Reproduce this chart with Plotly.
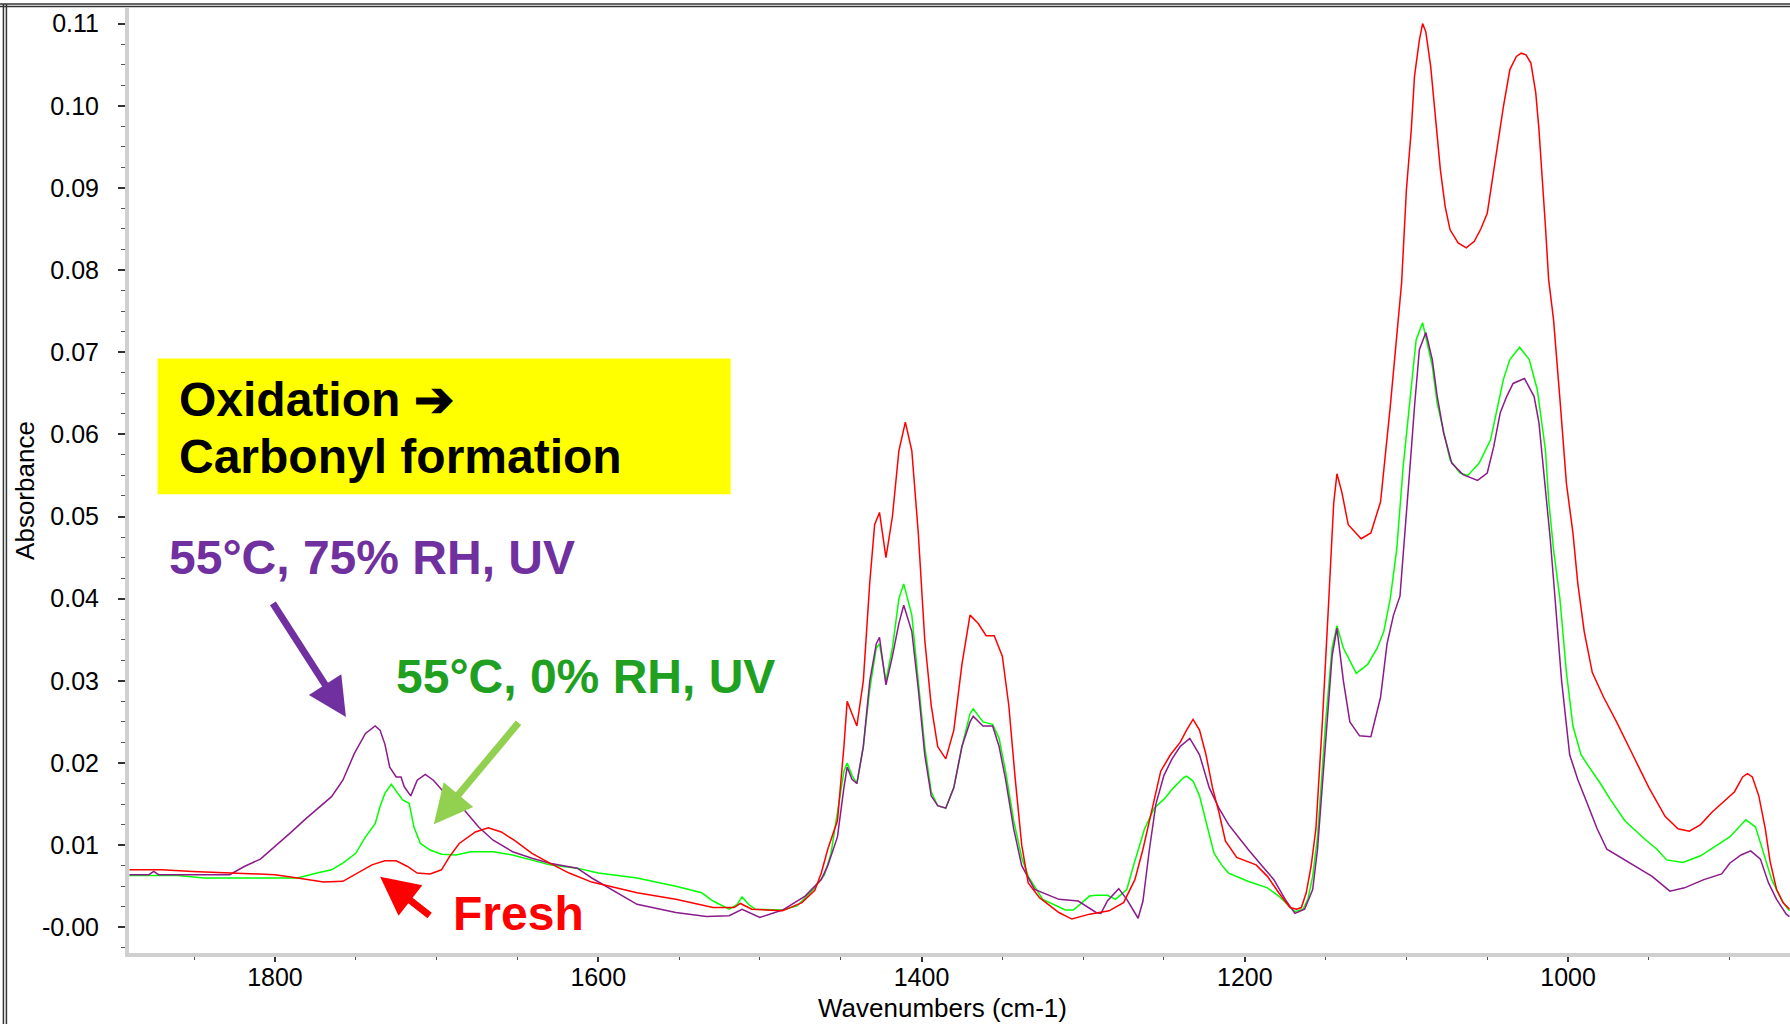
import plotly.graph_objects as go

# FTIR absorbance spectra (wavenumber in cm-1, absorbance)
fresh_wn = [1890, 1870, 1851, 1828, 1800, 1786, 1770, 1758, 1749, 1740, 1732, 1725, 1718, 1712, 1704,
            1697, 1692, 1686, 1676, 1668, 1660, 1652, 1641, 1630, 1618, 1604, 1576, 1552, 1529, 1516,
            1512, 1505, 1486, 1474, 1466, 1462, 1458, 1452, 1448, 1446, 1443, 1440, 1436, 1432, 1429,
            1426, 1422, 1418, 1414, 1410, 1406, 1402, 1398, 1394, 1390, 1385, 1380, 1375, 1370, 1365,
            1360, 1355, 1350, 1346, 1342, 1338, 1334, 1327, 1315, 1307, 1296, 1284, 1275, 1268, 1263,
            1258, 1252, 1246, 1240, 1236, 1232, 1228, 1224, 1220, 1216, 1212, 1205, 1193, 1186, 1179,
            1172, 1168, 1165, 1162, 1159, 1156, 1152, 1148, 1145, 1143, 1140, 1136, 1128, 1122, 1116,
            1110, 1106, 1103, 1100, 1097, 1095, 1092, 1090, 1088, 1085, 1081, 1079, 1076, 1073, 1068,
            1063, 1058, 1054, 1050, 1044, 1040, 1036, 1032, 1029, 1026, 1023, 1020, 1018, 1016, 1014,
            1012, 1009, 1005, 1001, 997, 994, 990, 985, 978, 970, 960, 950, 940, 932, 925,
            918, 911, 904, 897, 892, 889, 886, 882, 878, 875, 871, 867, 863]
fresh_abs = [0.0070, 0.0070, 0.0068, 0.0066, 0.0064, 0.0060, 0.0055, 0.0056, 0.0066, 0.0076, 0.0081, 0.0081, 0.0074, 0.0066, 0.0065,
             0.0070, 0.0086, 0.0102, 0.0116, 0.0121, 0.0116, 0.0106, 0.0090, 0.0078, 0.0066, 0.0055, 0.0042, 0.0034, 0.0024, 0.0024,
             0.0029, 0.0022, 0.0020, 0.0030, 0.0045, 0.0066, 0.0095, 0.0130, 0.0220, 0.0275, 0.0260, 0.0245, 0.0300, 0.0420, 0.0490,
             0.0505, 0.0450, 0.0500, 0.0580, 0.0615, 0.0580, 0.0480, 0.0350, 0.0270, 0.0220, 0.0205, 0.0240, 0.0320, 0.0380, 0.0370,
             0.0355, 0.0355, 0.0330, 0.0270, 0.0180, 0.0100, 0.0054, 0.0036, 0.0018, 0.0010, 0.0016, 0.0020, 0.0030, 0.0058, 0.0095,
             0.0140, 0.0190, 0.0210, 0.0225, 0.0240, 0.0253, 0.0240, 0.0210, 0.0170, 0.0140, 0.0105, 0.0085, 0.0076, 0.0062, 0.0042,
             0.0024, 0.0022, 0.0024, 0.0042, 0.0074, 0.0120, 0.0250, 0.0400, 0.0516, 0.0552, 0.0530, 0.0490, 0.0473, 0.0480, 0.0518,
             0.0634, 0.0715, 0.0784, 0.0898, 0.0971, 0.1036, 0.1080, 0.1100, 0.1090, 0.1048, 0.0967, 0.0922, 0.0877, 0.0849, 0.0833,
             0.0827, 0.0835, 0.0850, 0.0869, 0.0950, 0.0999, 0.1044, 0.1060, 0.1064, 0.1062, 0.1052, 0.1016, 0.0971, 0.0918, 0.0853,
             0.0788, 0.0740, 0.0642, 0.0540, 0.0480, 0.0419, 0.0360, 0.0310, 0.0280, 0.0250, 0.0210, 0.0170, 0.0135, 0.0120, 0.0117,
             0.0125, 0.0140, 0.0152, 0.0165, 0.0183, 0.0187, 0.0183, 0.0160, 0.0120, 0.0080, 0.0046, 0.0030, 0.0022]

dry_uv_wn = [1890, 1860, 1844, 1786, 1774, 1765, 1758, 1750, 1744, 1738, 1735, 1732, 1728, 1724, 1721,
             1717, 1714, 1710, 1704, 1697, 1688, 1679, 1665, 1653, 1641, 1630, 1613, 1600, 1576, 1552,
             1536, 1529, 1519, 1514, 1511, 1507, 1503, 1486, 1477, 1467, 1460, 1456, 1452, 1448, 1446,
             1443, 1440, 1436, 1432, 1428, 1426, 1422, 1418, 1414, 1411, 1406, 1402, 1398, 1394, 1390,
             1385, 1380, 1375, 1370, 1368, 1362, 1356, 1352, 1348, 1343, 1338, 1334, 1325, 1311, 1306,
             1296, 1292, 1285, 1280, 1273, 1269, 1266, 1262, 1256, 1250, 1244, 1238, 1236, 1232, 1228,
             1224, 1219, 1214, 1210, 1198, 1186, 1179, 1172, 1169, 1164, 1161, 1158, 1155, 1150, 1146,
             1143, 1139, 1131, 1124, 1118, 1114, 1110, 1106, 1102, 1098, 1094, 1090, 1084, 1081, 1077,
             1073, 1067, 1062, 1055, 1048, 1044, 1040, 1036, 1030, 1024, 1019, 1016, 1014, 1012, 1009,
             1005, 1001, 997, 992, 988, 980, 974, 965, 953, 945, 939, 929, 918, 910, 900,
             890, 884, 879, 874, 867, 863]
dry_uv_abs = [0.0063, 0.0063, 0.0060, 0.0060, 0.0066, 0.0070, 0.0078, 0.0090, 0.0110, 0.0126, 0.0147, 0.0163, 0.0174, 0.0163, 0.0155,
              0.0151, 0.0122, 0.0102, 0.0094, 0.0089, 0.0088, 0.0092, 0.0092, 0.0088, 0.0082, 0.0076, 0.0072, 0.0066, 0.0060, 0.0050,
              0.0042, 0.0032, 0.0022, 0.0028, 0.0037, 0.0028, 0.0022, 0.0021, 0.0026, 0.0046, 0.0064, 0.0090, 0.0140, 0.0190, 0.0200,
              0.0185, 0.0175, 0.0220, 0.0290, 0.0340, 0.0345, 0.0300, 0.0340, 0.0400, 0.0418, 0.0380, 0.0300, 0.0220, 0.0165, 0.0148,
              0.0145, 0.0170, 0.0220, 0.0260, 0.0266, 0.0250, 0.0247, 0.0230, 0.0190, 0.0130, 0.0085, 0.0062, 0.0034, 0.0021, 0.0021,
              0.0038, 0.0039, 0.0039, 0.0034, 0.0046, 0.0074, 0.0095, 0.0120, 0.0145, 0.0156, 0.0170, 0.0182, 0.0184, 0.0178, 0.0160,
              0.0130, 0.0090, 0.0075, 0.0066, 0.0056, 0.0048, 0.0038, 0.0024, 0.0019, 0.0022, 0.0034, 0.0062, 0.0110, 0.0250, 0.0340,
              0.0367, 0.0340, 0.0309, 0.0320, 0.0340, 0.0360, 0.0400, 0.0460, 0.0561, 0.0642, 0.0715, 0.0736, 0.0683, 0.0638, 0.0602,
              0.0569, 0.0553, 0.0550, 0.0565, 0.0593, 0.0630, 0.0667, 0.0691, 0.0706, 0.0691, 0.0654, 0.0610, 0.0581, 0.0520, 0.0460,
              0.0399, 0.0310, 0.0245, 0.0210, 0.0198, 0.0175, 0.0156, 0.0130, 0.0108, 0.0095, 0.0082, 0.0079, 0.0087, 0.0097, 0.0110,
              0.0131, 0.0122, 0.0090, 0.0058, 0.0030, 0.0020]

humid_uv_wn = [1890, 1878, 1875, 1872, 1828, 1819, 1809, 1800, 1791, 1781, 1772, 1765, 1758, 1751, 1744,
               1738, 1735, 1732, 1729, 1725, 1722, 1720, 1716, 1712, 1707, 1702, 1693, 1683, 1674, 1665,
               1653, 1641, 1630, 1613, 1604, 1595, 1586, 1576, 1552, 1533, 1519, 1511, 1500, 1486, 1472,
               1462, 1458, 1452, 1448, 1446, 1443, 1440, 1436, 1432, 1428, 1426, 1422, 1418, 1414, 1411,
               1406, 1402, 1398, 1394, 1390, 1385, 1380, 1375, 1370, 1368, 1362, 1356, 1352, 1348, 1343,
               1338, 1330, 1315, 1303, 1292, 1289, 1285, 1278, 1273, 1266, 1263, 1259, 1255, 1250, 1245,
               1240, 1234, 1228, 1222, 1216, 1210, 1204, 1198, 1189, 1182, 1175, 1169, 1163, 1158, 1155,
               1150, 1146, 1143, 1139, 1135, 1129, 1122, 1116, 1112, 1108, 1104, 1100, 1097, 1095, 1092,
               1088, 1084, 1081, 1077, 1072, 1065, 1056, 1050, 1046, 1042, 1038, 1034, 1027, 1021, 1018,
               1016, 1013, 1011, 1008, 1004, 999, 994, 988, 982, 976, 960, 948, 937, 928, 916,
               905, 900, 893, 887, 881, 876, 871, 865, 863]
humid_uv_abs = [0.0064, 0.0064, 0.0068, 0.0064, 0.0064, 0.0074, 0.0083, 0.0098, 0.0114, 0.0132, 0.0147, 0.0159, 0.0179, 0.0211, 0.0236,
                0.0245, 0.0240, 0.0223, 0.0195, 0.0183, 0.0183, 0.0171, 0.0160, 0.0179, 0.0186, 0.0179, 0.0159, 0.0143, 0.0122, 0.0106,
                0.0092, 0.0084, 0.0078, 0.0072, 0.0060, 0.0050, 0.0040, 0.0028, 0.0018, 0.0013, 0.0014, 0.0022, 0.0012, 0.0021, 0.0038,
                0.0058, 0.0075, 0.0110, 0.0170, 0.0195, 0.0180, 0.0175, 0.0220, 0.0300, 0.0345, 0.0353, 0.0295, 0.0330, 0.0370, 0.0392,
                0.0360, 0.0290, 0.0210, 0.0160, 0.0148, 0.0145, 0.0170, 0.0220, 0.0250, 0.0257, 0.0245, 0.0245, 0.0220, 0.0180, 0.0120,
                0.0075, 0.0046, 0.0034, 0.0032, 0.0018, 0.0017, 0.0032, 0.0047, 0.0034, 0.0011, 0.0032, 0.0095, 0.0150, 0.0185, 0.0205,
                0.0220, 0.0230, 0.0210, 0.0170, 0.0145, 0.0125, 0.0110, 0.0095, 0.0074, 0.0058, 0.0034, 0.0017, 0.0022, 0.0046, 0.0095,
                0.0220, 0.0330, 0.0364, 0.0300, 0.0250, 0.0233, 0.0232, 0.0280, 0.0345, 0.0380, 0.0403, 0.0500, 0.0581, 0.0634, 0.0703,
                0.0724, 0.0691, 0.0647, 0.0602, 0.0565, 0.0551, 0.0544, 0.0553, 0.0585, 0.0626, 0.0646, 0.0662, 0.0668, 0.0646, 0.0614,
                0.0573, 0.0512, 0.0472, 0.0399, 0.0300, 0.0210, 0.0180, 0.0150, 0.0120, 0.0095, 0.0076, 0.0062, 0.0044, 0.0048, 0.0058,
                0.0065, 0.0078, 0.0088, 0.0093, 0.0083, 0.0054, 0.0034, 0.0016, 0.0013]

y_tick_vals = [0.00, 0.01, 0.02, 0.03, 0.04, 0.05, 0.06, 0.07, 0.08, 0.09, 0.10, 0.11]
y_tick_text = ["-0.00", "0.01", "0.02", "0.03", "0.04", "0.05", "0.06", "0.07", "0.08", "0.09", "0.10", "0.11"]
x_tick_vals = [1800, 1600, 1400, 1200, 1000]

FONT = "Liberation Sans, Arial, sans-serif"
PURPLE = "#7030A0"
DARK_GREEN = "#20A020"
LIGHT_GREEN = "#92D050"
RED = "#FF0000"

fig = go.Figure()
fig.add_trace(go.Scatter(x=dry_uv_wn, y=dry_uv_abs, mode="lines",
                         line=dict(color="#00FF00", width=1.5), name="55°C, 0% RH, UV"))
fig.add_trace(go.Scatter(x=humid_uv_wn, y=humid_uv_abs, mode="lines",
                         line=dict(color="#8B1A8B", width=1.5), name="55°C, 75% RH, UV"))
fig.add_trace(go.Scatter(x=fresh_wn, y=fresh_abs, mode="lines",
                         line=dict(color="#FF0000", width=1.5), name="Fresh"))

fig.update_layout(
    width=1790, height=1024,
    margin=dict(l=129, r=0, t=8, b=71),
    paper_bgcolor="white", plot_bgcolor="white",
    showlegend=False,
    font=dict(family=FONT, color="black"),
    xaxis=dict(
        range=[1890.3, 862.7], showgrid=False, zeroline=False,
        showline=True, linecolor="#d0d0d0", linewidth=4,
        ticks="outside", ticklen=5, tickwidth=1.5, tickcolor="#333333",
        tickvals=x_tick_vals, tickfont=dict(size=25, family=FONT, color="black"),
        ticklabelstandoff=-6,
        minor=dict(dtick=50, ticks="outside", ticklen=3, tickwidth=1.2, tickcolor="#555555"),
    ),
    yaxis=dict(
        range=[-0.00313, 0.1119], showgrid=False, zeroline=False,
        showline=True, linecolor="#d0d0d0", linewidth=4,
        ticks="outside", ticklen=7, tickwidth=1.5, tickcolor="#333333",
        tickvals=y_tick_vals, ticktext=y_tick_text,
        tickfont=dict(size=25, family=FONT, color="black"),
        ticklabelstandoff=14,
        minor=dict(dtick=0.0025, ticks="outside", ticklen=4, tickwidth=1.2, tickcolor="#555555"),
    ),
)

# window frame (double rule along top and left edges)
frame = dict(color="#333333", width=1.5)
for yv in (1.0042, 1.0016):
    fig.add_shape(type="line", xref="paper", yref="paper", x0=-0.078, x1=1.0, y0=yv, y1=yv, line=frame)
for xv in (-0.0756, -0.0738):
    fig.add_shape(type="line", xref="paper", yref="paper", x0=xv, x1=xv, y0=1.0042, y1=-0.08, line=frame)

# yellow call-out box
fig.add_shape(type="rect", xref="paper", yref="paper", x0=0.0172, x1=0.3622, y0=0.4854, y1=0.6291,
              fillcolor="#FFFF00", line=dict(width=0), layer="above")

# axis titles
fig.add_annotation(text="Absorbance", xref="paper", yref="paper", x=-0.0626, y=0.489,
                   xanchor="center", yanchor="middle",
                   textangle=-90, showarrow=False, font=dict(size=26, family=FONT, color="black"))
fig.add_annotation(text="Wavenumbers (cm-1)", xref="paper", yref="paper", x=0.49, y=-0.0585,
                   xanchor="center", yanchor="middle",
                   showarrow=False, font=dict(size=26, family=FONT, color="black"))

big = 48
fig.add_annotation(text="<b>Oxidation ➔</b>", xref="paper", yref="paper", x=0.0289, y=0.5852,
                   xanchor="left", yanchor="middle", showarrow=False,
                   font=dict(size=big, family=FONT, color="black"))
fig.add_annotation(text="<b>Carbonyl formation</b>", xref="paper", yref="paper", x=0.0289, y=0.5249,
                   xanchor="left", yanchor="middle", showarrow=False,
                   font=dict(size=big, family=FONT, color="black"))
fig.add_annotation(text="<b>55°C, 75% RH, UV</b>", xref="paper", yref="paper", x=0.0229, y=0.418,
                   xanchor="left", yanchor="middle", showarrow=False,
                   font=dict(size=big, family=FONT, color=PURPLE))
fig.add_annotation(text="<b>55°C, 0% RH, UV</b>", xref="paper", yref="paper", x=0.1595, y=0.2931,
                   xanchor="left", yanchor="middle", showarrow=False,
                   font=dict(size=big, family=FONT, color=DARK_GREEN))
fig.add_annotation(text="<b>Fresh</b>", xref="paper", yref="paper", x=0.1940, y=0.0423,
                   xanchor="left", yanchor="middle", showarrow=False,
                   font=dict(size=big, family=FONT, color=RED))

# pointer arrows
for hx, hy, ax, ay, col in [(0.1306, 0.2498, -74, -115, PURPLE),
                            (0.1835, 0.1363, 86, -103, LIGHT_GREEN),
                            (0.1512, 0.0807, 51, 40, RED)]:
    fig.add_annotation(text="", xref="paper", yref="paper", x=hx, y=hy, ax=ax, ay=ay,
                       showarrow=True, arrowhead=2, arrowsize=1.1, arrowwidth=7, arrowcolor=col)

fig.write_html("out.html")
